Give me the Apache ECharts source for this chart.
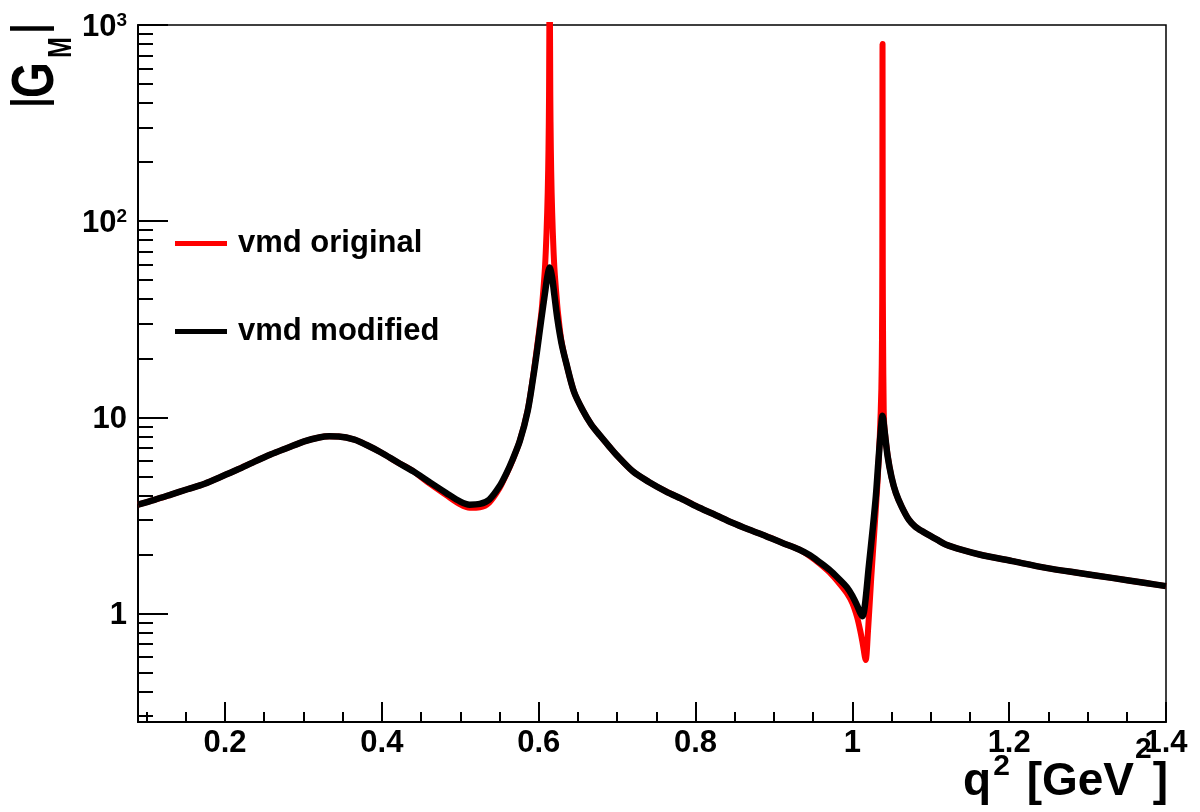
<!DOCTYPE html>
<html>
<head>
<meta charset="utf-8">
<script src="https://cdn.jsdelivr.net/npm/echarts@6/dist/echarts.min.js"></script>
<style>
  html, body { margin: 0; padding: 0; background: #fff; }
  #chart { width: 1200px; height: 812px; }
</style>
</head>
<body>
<div id="chart"></div>
<script>
// |G_M| of the vector-meson-dominance form factor versus q^2

// modified VMD (finite widths)
const modifiedQ2 = [0.089, 0.110, 0.131, 0.152, 0.174, 0.195, 0.216, 0.237, 0.258, 0.280, 0.301, 0.320, 0.333, 0.345, 0.365, 0.380, 0.399, 0.420, 0.440, 0.460, 0.482, 0.500, 0.512, 0.525, 0.537, 0.550, 0.559, 0.566, 0.576, 0.586, 0.593, 0.598, 0.603, 0.608, 0.611, 0.614, 0.617, 0.620, 0.624, 0.629, 0.635, 0.645, 0.656, 0.667, 0.678, 0.690, 0.699, 0.720, 0.740, 0.762, 0.785, 0.805, 0.826, 0.847, 0.868, 0.890, 0.911, 0.932, 0.946, 0.958, 0.971, 0.983, 0.993, 1.000, 1.006, 1.010, 1.013, 1.016, 1.021, 1.026, 1.030, 1.033, 1.036, 1.0385, 1.041, 1.045, 1.050, 1.0555, 1.063, 1.072, 1.080, 1.089, 1.108, 1.119, 1.140, 1.162, 1.204, 1.247, 1.289, 1.331, 1.374, 1.400];
const modifiedGM = [3.59, 3.80, 4.04, 4.30, 4.59, 4.98, 5.42, 5.93, 6.46, 7.00, 7.55, 7.90, 8.00, 7.98, 7.70, 7.25, 6.62, 5.90, 5.31, 4.70, 4.12, 3.72, 3.59, 3.62, 3.81, 4.45, 5.20, 6.0, 7.6, 10.8, 16, 22, 31, 43, 52, 58, 52, 42, 31.5, 24, 19, 13.5, 10.9, 9.2, 8.1, 7.1, 6.45, 5.31, 4.7, 4.2, 3.8, 3.46, 3.17, 2.90, 2.68, 2.48, 2.29, 2.12, 1.98, 1.83, 1.67, 1.50, 1.36, 1.23, 1.10, 1.01, 0.97, 1.1, 1.74, 2.7, 3.96, 5.8, 8.3, 10.2, 8.6, 6.33, 4.95, 4.12, 3.5, 3.01, 2.78, 2.63, 2.38, 2.25, 2.11, 2.00, 1.85, 1.71, 1.61, 1.52, 1.43, 1.38];

// original VMD (narrow resonances)
const originalQ2 = [0.089, 0.110, 0.131, 0.152, 0.174, 0.195, 0.216, 0.237, 0.258, 0.280, 0.301, 0.320, 0.333, 0.345, 0.365, 0.380, 0.399, 0.420, 0.440, 0.460, 0.482, 0.500, 0.512, 0.525, 0.537, 0.550, 0.559, 0.566, 0.576, 0.586, 0.593, 0.598, 0.603, 0.6045, 0.608, 0.610, 0.6115, 0.6125, 0.6132, 0.614, 0.6148, 0.6155, 0.6165, 0.618, 0.620, 0.6235, 0.625, 0.629, 0.635, 0.645, 0.656, 0.667, 0.678, 0.690, 0.699, 0.720, 0.740, 0.762, 0.785, 0.805, 0.826, 0.847, 0.868, 0.890, 0.911, 0.932, 0.946, 0.958, 0.971, 0.983, 0.993, 1.000, 1.006, 1.010, 1.013, 1.017, 1.020, 1.024, 1.028, 1.032, 1.035, 1.037, 1.0378, 1.0382, 1.0385, 1.0388, 1.0392, 1.040, 1.041, 1.045, 1.050, 1.0555, 1.063, 1.072, 1.080, 1.089, 1.108, 1.119, 1.140, 1.162, 1.204, 1.247, 1.289, 1.331, 1.374, 1.400];
const originalGM = [3.59, 3.80, 4.04, 4.30, 4.59, 4.98, 5.42, 5.93, 6.46, 7.00, 7.55, 7.90, 8.00, 7.98, 7.70, 7.25, 6.62, 5.90, 5.31, 4.62, 4.02, 3.60, 3.46, 3.48, 3.68, 4.35, 5.15, 5.95, 7.6, 10.9, 16.3, 23, 33, 38, 58, 88, 140, 233, 440, 2000, 440, 233, 140, 88, 58, 38, 33, 24.5, 19, 13.5, 10.9, 9.2, 8.1, 7.1, 6.45, 5.31, 4.7, 4.2, 3.8, 3.46, 3.17, 2.90, 2.68, 2.48, 2.29, 2.12, 1.96, 1.80, 1.62, 1.43, 1.27, 1.13, 0.96, 0.82, 0.71, 0.58, 0.82, 1.5, 2.6, 4.6, 8.0, 14, 25, 60, 800, 60, 25, 11, 8.8, 6.4, 4.95, 4.12, 3.5, 3.01, 2.78, 2.63, 2.38, 2.25, 2.11, 2.00, 1.85, 1.71, 1.61, 1.52, 1.43, 1.38];

// axis ticks
const xMajorTicks = [0.2, 0.4, 0.6, 0.8, 1.0, 1.2, 1.4];
const xMinorTicks = [0.1, 0.15, 0.25, 0.3, 0.35, 0.45, 0.5, 0.55, 0.65, 0.7, 0.75, 0.85, 0.9, 0.95, 1.05, 1.1, 1.15, 1.25, 1.3, 1.35];
const yMajorTicks = [1, 10, 100, 1000];
const yMinorTicks = [0.3, 0.4, 0.5, 0.6, 0.7, 0.8, 0.9, 2, 3, 4, 5, 6, 7, 8, 9, 20, 30, 40, 50, 60, 70, 80, 90, 200, 300, 400, 500, 600, 700, 800, 900];

const FONT = "'Liberation Sans', Arial, Helvetica, sans-serif";
const X_MIN = 0.089, X_MAX = 1.4, Y_MIN = 0.28, Y_MAX = 1000;

const pairs = (xs, ys) => xs.map((x, i) => [x, ys[i]]);

const chart = echarts.init(document.getElementById('chart'), null, { renderer: 'canvas' });

const bold = (size, extra) => Object.assign({ fontFamily: FONT, fontSize: size, fontWeight: 'bold', color: '#000', fill: '#000', lineHeight: size }, extra || {});

// one glyph of the rotated y-axis title, centred on (cx, cy)
const titleGlyph = (text, size, cx, cy) => ({
  type: 'text', z: 10,
  x: cx, y: cy, rotation: Math.PI / 2, scaleY: 1.3,
  style: Object.assign(bold(size), { text: text, x: 0, y: 0, align: 'center', verticalAlign: 'middle' })
});

const option = {
  animation: false,
  backgroundColor: '#ffffff',
  grid: {
    left: 138, right: 34, top: 25, bottom: 90,
    show: true, borderColor: '#000', borderWidth: 1.5, backgroundColor: 'transparent'
  },
  legend: {
    data: ['vmd original', 'vmd modified'],
    orient: 'vertical',
    left: 175, top: 228, padding: 0,
    icon: 'rect',
    itemWidth: 52, itemHeight: 5, itemGap: 57,
    textStyle: { fontFamily: FONT, fontSize: 31, fontWeight: 'bold', color: '#000', lineHeight: 30, padding: [0, 0, 0, 6] }
  },
  xAxis: [
    {
      type: 'value', min: X_MIN, max: X_MAX, position: 'bottom',
      axisLine: { lineStyle: { color: '#000', width: 2 } },
      axisTick: { inside: true, length: 20, customValues: xMajorTicks, lineStyle: { color: '#000', width: 2 } },
      axisLabel: {
        customValues: xMajorTicks, margin: 6,
        fontFamily: FONT, fontSize: 31, fontWeight: 'bold', color: '#000', lineHeight: 31,
        formatter: v => String(+(+v).toFixed(1))
      },
      splitLine: { show: false }
    },
    {
      type: 'value', min: X_MIN, max: X_MAX, position: 'bottom',
      axisLine: { show: false },
      axisTick: { inside: true, length: 10, customValues: xMinorTicks, lineStyle: { color: '#000', width: 2 } },
      axisLabel: { show: false },
      splitLine: { show: false }
    }
  ],
  yAxis: [
    {
      type: 'log', logBase: 10, min: Y_MIN, max: Y_MAX, position: 'left',
      axisLine: { lineStyle: { color: '#000', width: 2 } },
      axisTick: { inside: true, length: 30, customValues: yMajorTicks, lineStyle: { color: '#000', width: 2 } },
      axisLabel: {
        customValues: yMajorTicks, margin: 11, padding: [4, 0, 0, 0],
        fontFamily: FONT, fontSize: 31, fontWeight: 'bold', color: '#000', lineHeight: 31,
        formatter: v => {
          const e = Math.round(Math.log10(v));
          if (e === 0) return '1';
          if (e === 1) return '10';
          return '{b|10}{s|' + e + '}';
        },
        rich: {
          b: bold(31, { verticalAlign: 'bottom' }),
          s: bold(19, { verticalAlign: 'bottom', padding: [0, 0, 12, 0] })
        }
      },
      splitLine: { show: false }
    },
    {
      type: 'log', logBase: 10, min: Y_MIN, max: Y_MAX, position: 'left',
      axisLine: { show: false },
      axisTick: { inside: true, length: 15, customValues: yMinorTicks, lineStyle: { color: '#000', width: 2 } },
      axisLabel: { show: false },
      splitLine: { show: false }
    }
  ],
  series: [
    {
      name: 'vmd original', type: 'line', xAxisIndex: 0, yAxisIndex: 0,
      data: pairs(originalQ2, originalGM),
      showSymbol: false, symbol: 'none', color: '#ff0000',
      smooth: 0.3,
      lineStyle: { color: '#ff0000', width: 6, join: 'round' }, z: 2
    },
    {
      name: 'vmd modified', type: 'line', xAxisIndex: 0, yAxisIndex: 0,
      data: pairs(modifiedQ2, modifiedGM),
      showSymbol: false, symbol: 'none', color: '#000000',
      smooth: 0.3,
      lineStyle: { color: '#000000', width: 6.5, join: 'round' }, z: 3
    }
  ],
  graphic: [
    {
      // x-axis title: q^2 [GeV^2]
      type: 'text', z: 10,
      style: {
        x: 1168, y: 805, align: 'right', verticalAlign: 'bottom',
        text: '{m|q}{s1|2}{m| [GeV}{s2|2}{m|]}',
        rich: {
          m: bold(46, { verticalAlign: 'bottom' }),
          s1: bold(30, { verticalAlign: 'bottom', padding: [0, 4, 23, 2] }),
          s2: bold(30, { verticalAlign: 'bottom', padding: [0, 1, 40, 1] })
        }
      }
    },
    // y-axis title: |G_M|, read bottom to top
    titleGlyph('|', 36, 31.5, 102.5),
    titleGlyph('G', 46, 36.5, 80),
    titleGlyph('M', 25, 62.5, 47.5),
    titleGlyph('|', 36, 31.5, 28.5)
  ]
};

chart.setOption(option);
</script>
</body>
</html>
